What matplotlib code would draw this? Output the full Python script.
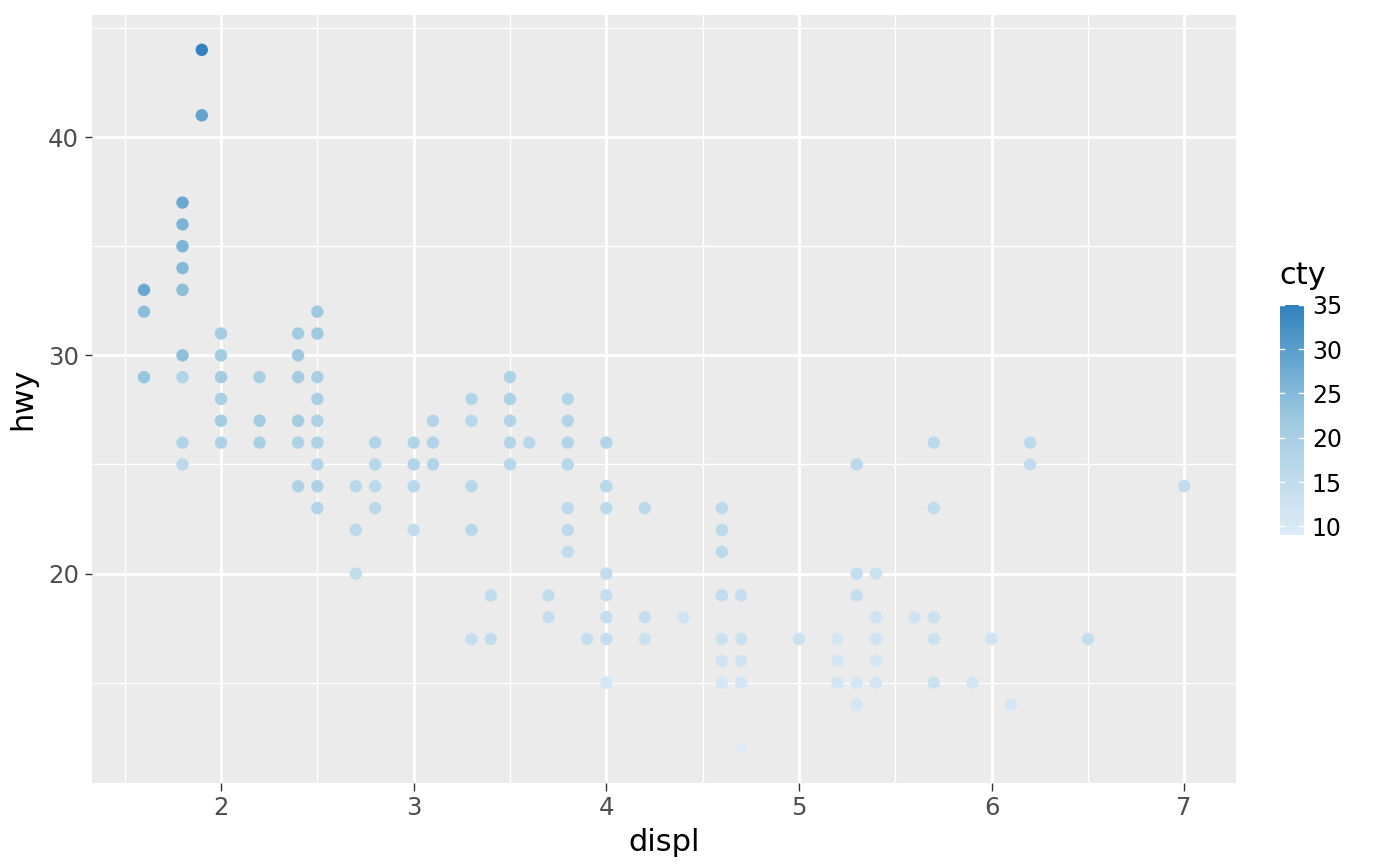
import numpy as np
import matplotlib
matplotlib.use("Agg")
import matplotlib.pyplot as plt
from matplotlib.colors import LinearSegmentedColormap, Normalize
from matplotlib.ticker import MultipleLocator

# displ, hwy, cty (one entry per visible point)
displ = [1.6, 1.6, 1.6,
         1.8, 1.8, 1.8, 1.8, 1.8, 1.8, 1.8, 1.8, 1.8,
         1.9, 1.9,
         2.0, 2.0, 2.0, 2.0, 2.0, 2.0,
         2.2, 2.2, 2.2,
         2.4, 2.4, 2.4, 2.4, 2.4, 2.4,
         2.5, 2.5, 2.5, 2.5, 2.5, 2.5, 2.5, 2.5, 2.5,
         2.7, 2.7, 2.7,
         2.8, 2.8, 2.8, 2.8,
         3.0, 3.0, 3.0, 3.0,
         3.1, 3.1, 3.1,
         3.3, 3.3, 3.3, 3.3, 3.3,
         3.4, 3.4,
         3.5, 3.5, 3.5, 3.5, 3.5,
         3.6,
         3.7, 3.7,
         3.8, 3.8, 3.8, 3.8, 3.8, 3.8, 3.8,
         3.9,
         4.0, 4.0, 4.0, 4.0, 4.0, 4.0, 4.0, 4.0,
         4.2, 4.2, 4.2,
         4.4,
         4.6, 4.6, 4.6, 4.6, 4.6, 4.6, 4.6,
         4.7, 4.7, 4.7, 4.7, 4.7,
         5.0,
         5.2, 5.2, 5.2,
         5.3, 5.3, 5.3, 5.3, 5.3,
         5.4, 5.4, 5.4, 5.4, 5.4,
         5.6,
         5.7, 5.7, 5.7, 5.7, 5.7,
         5.9, 6.0, 6.1,
         6.2, 6.2,
         6.5, 7.0]
hwy = [33, 32, 29,
       37, 36, 35, 34, 33, 30, 29, 26, 25,
       44, 41,
       31, 30, 29, 28, 27, 26,
       29, 27, 26,
       31, 30, 29, 27, 26, 24,
       32, 31, 29, 28, 27, 26, 25, 24, 23,
       24, 22, 20,
       26, 25, 24, 23,
       26, 25, 24, 22,
       27, 26, 25,
       28, 27, 24, 22, 17,
       19, 17,
       29, 28, 27, 26, 25,
       26,
       19, 18,
       28, 27, 26, 25, 23, 22, 21,
       17,
       26, 24, 23, 20, 19, 18, 17, 15,
       23, 18, 17,
       18,
       23, 22, 21, 19, 17, 16, 15,
       19, 17, 16, 15, 12,
       17,
       17, 16, 15,
       25, 20, 19, 15, 14,
       20, 18, 17, 16, 15,
       18,
       26, 23, 18, 17, 15,
       15, 17, 14,
       26, 25,
       17, 24]
cty = [28, 24, 23,
       28, 26, 26, 25, 24, 24, 18, 18, 16,
       35, 29,
       21, 21, 21, 20, 21, 19,
       20, 21, 20,
       21, 22, 21, 21, 19, 19,
       22, 22, 20, 20, 19, 19, 18, 19, 18,
       17, 16, 15,
       18, 17, 16, 16,
       18, 18, 17, 15,
       18, 18, 18,
       18, 17, 17, 17, 14,
       15, 15,
       19, 19, 18, 18, 17,
       17,
       15, 14,
       18, 18, 18, 17, 16, 16, 15,
       14,
       18, 17, 16, 15, 14, 14, 14, 11,
       16, 14, 13,
       12,
       16, 16, 16, 15, 13, 12, 11,
       14, 13, 12, 11, 9,
       13,
       11, 11, 11,
       16, 14, 14, 11, 11,
       13, 12, 12, 11, 11,
       12,
       16, 15, 13, 13, 13,
       11, 12, 11,
       16, 15,
       14, 15]

cmap = LinearSegmentedColormap.from_list("blues3", ["#deebf7", "#9ecae1", "#3182bd"])
norm = Normalize(vmin=9, vmax=35)

fig = plt.figure(figsize=(7, 4.33), dpi=200)
ax = fig.add_axes([0.0657, 0.0958, 0.8173, 0.887])
ax.set_facecolor("#EBEBEB")
for s in ax.spines.values():
    s.set_visible(False)

order = np.argsort(cty)
sc = ax.scatter(np.array(displ)[order], np.array(hwy)[order], c=np.array(cty)[order],
                cmap=cmap, norm=norm, s=20, linewidths=0, zorder=3)

ax.set_xlim(1.33, 7.27)
ax.set_ylim(10.4, 45.6)
ax.xaxis.set_major_locator(MultipleLocator(1))
ax.xaxis.set_minor_locator(MultipleLocator(0.5))
ax.yaxis.set_major_locator(MultipleLocator(10))
ax.yaxis.set_minor_locator(MultipleLocator(5))
ax.set_xticks([2, 3, 4, 5, 6, 7])
ax.set_yticks([20, 30, 40])
ax.grid(which="major", color="white", linewidth=1.0, zorder=0)
ax.grid(which="minor", color="white", linewidth=0.5, zorder=0)
ax.set_axisbelow(True)
ax.tick_params(which="major", length=2.7, width=0.5, color="#333333",
               labelsize=8.8, labelcolor="#4D4D4D", pad=2)
ax.tick_params(which="minor", length=0)
ax.set_xlabel("displ", fontsize=11, labelpad=3)
ax.set_ylabel("hwy", fontsize=11, labelpad=4)

cax = fig.add_axes([0.914, 0.382, 0.0171, 0.266])
cb = fig.colorbar(sc, cax=cax)
cb.outline.set_visible(False)
cb.set_ticks([10, 15, 20, 25, 30, 35])
cax.tick_params(length=0, labelsize=8.5, labelcolor="black", pad=3)
for t in [10, 15, 20, 25, 30, 35]:
    cax.plot([0, 0.2], [t, t], color="white", linewidth=0.5, transform=cax.get_yaxis_transform())
    cax.plot([0.8, 1.0], [t, t], color="white", linewidth=0.5, transform=cax.get_yaxis_transform())
fig.text(0.914, 0.665, "cty", fontsize=11, ha="left", va="bottom")

fig.savefig("out.png", dpi=200)
